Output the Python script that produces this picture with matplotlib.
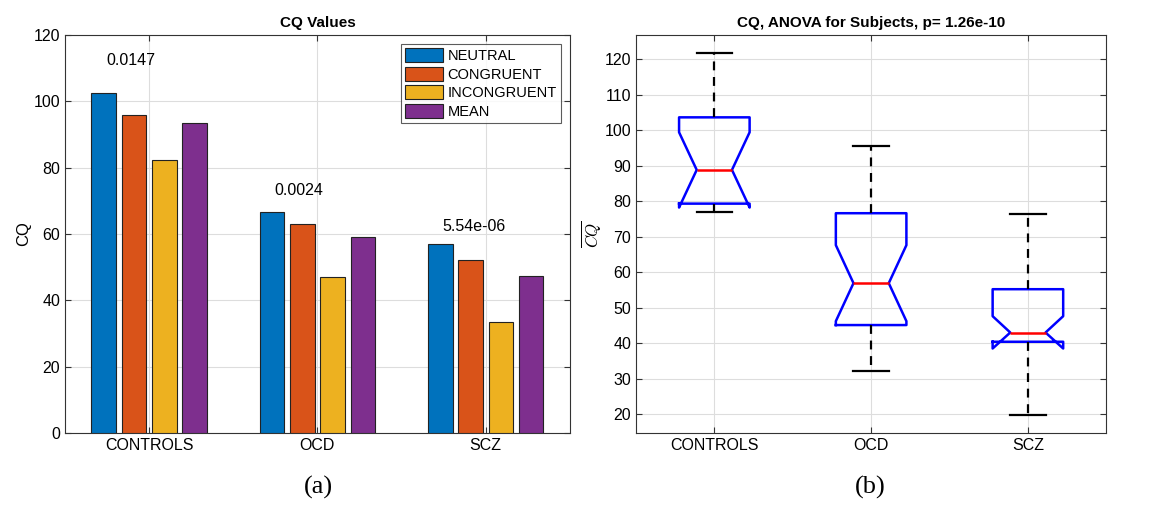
import matplotlib.pyplot as plt
import numpy as np

plt.rcParams['font.family'] = ['Liberation Sans', 'DejaVu Sans']
plt.rcParams['mathtext.fontset'] = 'cm'

groups = ['CONTROLS', 'OCD', 'SCZ']
conditions = ['NEUTRAL', 'CONGRUENT', 'INCONGRUENT', 'MEAN']
colors = ['#0072BD', '#D95319', '#EDB120', '#7E2F8E']

neutral = [102.4, 66.7, 56.9]
congruent = [96.0, 63.1, 52.1]
incongruent = [82.4, 47.1, 33.5]
mean = [93.6, 59.0, 47.4]
bar_values = [neutral, congruent, incongruent, mean]

p_labels = ['0.0147', '0.0024', '5.54e-06']
p_label_y = [112.2, 73.0, 62.2]

# boxplot stats for CQ per group
whislo = [77.0, 32.3, 19.9]
q1 = [79.3, 45.1, 40.4]
med = [88.8, 56.9, 43.0]
q3 = [103.6, 76.6, 55.2]
whishi = [121.6, 95.5, 76.4]
cilo = [78.2, 46.2, 38.5]
cihi = [99.4, 67.6, 47.6]

fig = plt.figure(figsize=(11.5, 5.09), dpi=100)

# ---- (a) bar chart
ax1 = fig.add_axes([0.0565, 0.1493, 0.439, 0.782])
x = np.arange(1, len(groups) + 1)
bw = 0.146
step = 0.18
for i, (vals, c, name) in enumerate(zip(bar_values, colors, conditions)):
    ax1.bar(x + (i - 1.5) * step, vals, width=bw, color=c, edgecolor='#222222',
            linewidth=0.8, label=name, zorder=3)
for xi, lab, yy in zip(x, p_labels, p_label_y):
    ax1.text(xi - 0.255, yy, lab, fontsize=11.5, ha='left', va='center', zorder=4)
ax1.set_xlim(0.5, 3.5)
ax1.set_ylim(0, 120)
ax1.set_yticks(range(0, 121, 20))
ax1.set_xticks(x)
ax1.set_xticklabels(groups)
ax1.set_ylabel('CQ', fontsize=12, labelpad=2)
ax1.set_title('CQ Values', fontsize=11, fontweight='bold')
leg = ax1.legend(loc='upper right', fontsize=10.5, frameon=True, fancybox=False,
                 edgecolor='#333333', borderpad=0.3, labelspacing=0.25,
                 handlelength=2.6, handleheight=1.1, handletextpad=0.3,
                 borderaxespad=0.6)
leg.get_frame().set_linewidth(0.8)

# ---- (b) notched boxplot
ax2 = fig.add_axes([0.553, 0.1493, 0.409, 0.782])
stats = []
for i in range(len(groups)):
    stats.append(dict(label=groups[i], whislo=whislo[i], q1=q1[i], med=med[i],
                      q3=q3[i], whishi=whishi[i], cilo=cilo[i], cihi=cihi[i],
                      fliers=[]))
ax2.bxp(stats, positions=x, widths=0.45, shownotches=True,
        boxprops=dict(color='blue', linewidth=1.8),
        medianprops=dict(color='red', linewidth=1.8),
        whiskerprops=dict(color='black', linestyle=(0, (4, 3)), linewidth=1.6),
        capprops=dict(color='black', linewidth=1.6),
        zorder=3)
ax2.set_xlim(0.5, 3.5)
ax2.set_ylim(14.7, 126.8)
ax2.set_yticks(range(20, 121, 10))
ax2.set_ylabel(r'$\overline{CQ}$', fontsize=12, labelpad=1)
ax2.set_title('CQ, ANOVA for Subjects, p= 1.26e-10', fontsize=11, fontweight='bold')

for ax in (ax1, ax2):
    ax.grid(True, color='#dddddd', linewidth=0.8, zorder=0)
    ax.set_axisbelow(True)
    ax.tick_params(direction='in', top=True, right=True, labelsize=11.5, length=4,
                   color='#333333')
    for s in ax.spines.values():
        s.set_color('#333333')
        s.set_linewidth(0.8)

fig.text(0.277, 0.03, '(a)', fontsize=19, family='Liberation Serif', ha='center')
fig.text(0.757, 0.03, '(b)', fontsize=19, family='Liberation Serif', ha='center')

fig.savefig('out.png', dpi=100)
